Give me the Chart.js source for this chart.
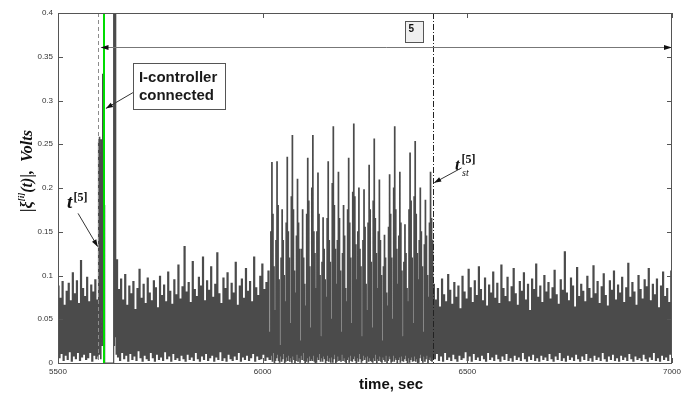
<!DOCTYPE html>
<html><head><meta charset="utf-8">
<script src="https://cdn.jsdelivr.net/npm/chart.js@4/dist/chart.umd.min.js"></script>
<style>html,body{margin:0;padding:0;background:#fff;overflow:hidden}#wrap{width:692px;height:394px;position:relative}</style>
</head><body><div id="wrap"><canvas id="c" width="692" height="394"></canvas></div>
<script>
// ---- axis ticks ----
const xTicks = [5500, 6000, 6500, 7000];
const yTicks = [0, 0.05, 0.1, 0.15, 0.2, 0.25, 0.3, 0.35, 0.4];

// ---- signal |xi(t)| in millivolts (thousandths of a volt) ----
const segStart = [5500, 5598, 5643, 6017, 6417];   // sec, first sample of each segment
const segStep  = [2.5, 1, 2.5, 1.25, 2.5];          // sec between samples

const noiseBefore_mV = [88,6,74,11,93,3,66,9,82,4,91,13,71,2,103,8,79,5,94,12,68,3,117,7,85,10,76,4,98,6,70,12,89,2,81,9,95,5,72,8];

const burst_mV = [20,252,10,258,35,235,5,255,60,245,20,330,110,320,40,180,
  0,0,0,0,0,0,0,0,0,0,0,0,0,0,0,0,0,0,0,0,0,0,
  450,20,440,30,470,90,10];

const noiseMid_mV = [
  118,7,84,3,96,12,72,5,101,9,66,2,88,11,79,4,93,8,61,3,
  85,14,107,6,74,2,90,9,68,5,97,3,80,12,71,6,94,2,86,10,
  63,4,99,7,77,3,89,13,70,5,104,8,82,2,67,11,95,4,78,6,
  112,3,73,9,87,5,133,2,81,10,92,4,69,7,116,3,84,12,76,5,
  98,2,88,8,121,4,71,11,94,3,83,6,110,9,75,2,90,7,126,4,
  79,13,68,3,97,6,85,2,103,10,72,5,91,3,80,8,115,4,66,12,
  88,2,96,7,74,4,108,9,82,3,93,6,70,11,121,2,86,8,77,4,
  99,5,113,10,84,3,92,7,105,4];

const oscillation_mV = [
  35,4,150,9,229,2,170,12,110,0,   60,3,140,6,230,10,180,3,95,1,
  20,8,120,2,175,5,140,11,100,0,   70,2,160,7,235,3,150,9,120,2,
  45,6,190,1,260,8,175,4,105,0,    80,3,145,10,210,2,160,6,130,1,
  25,9,130,4,175,12,120,3,90,0,    65,2,170,6,234,1,185,8,110,3,
  40,5,200,3,260,9,150,2,125,0,    85,1,150,7,217,4,170,11,100,2,
  30,6,115,2,166,8,130,5,95,0,     75,3,165,9,230,2,140,6,115,1,
  50,7,205,1,270,5,180,10,130,0,   90,2,140,8,218,3,165,4,105,2,
  35,10,125,3,180,6,145,2,85,0,    70,4,175,7,234,1,160,9,120,3,
  45,2,195,5,273,8,190,3,135,0,    95,6,150,2,200,11,130,5,110,1,
  30,3,140,9,198,4,155,7,90,0,     60,8,160,2,226,6,175,3,115,2,
  40,1,185,6,256,3,165,10,125,0,   85,5,150,3,209,8,140,2,100,1,
  25,7,110,4,146,2,120,9,80,0,     65,3,155,8,215,5,170,1,120,2,
  50,9,200,2,270,6,175,4,130,0,    90,4,145,7,218,1,160,8,105,3,
  30,2,115,5,158,9,125,3,85,0,     70,6,175,1,240,4,185,7,120,2,
  45,3,190,8,253,2,170,5,125,0,    95,1,140,6,200,10,150,3,110,1,
  35,8,135,2,186,5,145,9,100,0,    75,4,160,7,218,3,165,2,140,6];

const noiseAfter_mV = [
  90,5,72,11,85,3,64,8,96,2,78,12,70,4,101,7,83,3,67,10,
  92,5,75,2,88,9,62,4,99,6,81,13,73,3,107,8,86,2,69,11,
  94,4,77,7,110,3,84,9,71,5,97,2,65,12,89,4,80,7,104,3,
  74,10,91,5,68,2,112,8,85,4,76,11,98,3,70,6,87,2,108,9,
  79,4,66,7,93,3,82,12,103,5,72,2,90,8,60,4,96,10,84,3,
  113,6,75,2,88,9,69,4,100,7,81,3,92,11,73,5,86,2,106,8,
  78,4,67,12,95,3,83,6,127,2,80,9,71,4,97,7,88,3,64,10,
  109,5,76,2,90,8,82,4,70,11,99,3,85,6,74,2,111,9,79,4,
  93,7,68,3,87,12,102,5,77,2,65,8,94,4,83,10,105,3,72,6,
  89,2,80,9,98,4,69,7,86,3,114,11,75,5,92,2,81,8,66,4,
  100,6,84,3,73,10,95,5,87,2,108,7,71,4,90,12,78,3,96,6,
  63,2,88,9,104,4,76,7,85,3,69,10,105,5];

const segValues = [noiseBefore_mV, burst_mV, noiseMid_mV, oscillation_mV, noiseAfter_mV];

// ---- annotated events ----
const tStart5 = 5598;      // t^[5]
const tConnect = 5613;     // I-controller connected
const tSettle5 = 6417;     // t_st^[5]
const intervalLevel = 0.361;

// build points (sample time from segment start + index * step)
const points = [];
segValues.forEach((vals, s) => {
  vals.forEach((v, i) => points.push({x: segStart[s] + i * segStep[s], y: v / 1000}));
});

const FR = '#555';
function seg(ctx, x1, y1, x2, y2){ctx.beginPath();ctx.moveTo(x1,y1);ctx.lineTo(x2,y2);ctx.stroke();}
function head(ctx, x1, y1, x2, y2, len, hw){
  const a = Math.atan2(y2-y1, x2-x1);
  ctx.beginPath();
  ctx.moveTo(x2, y2);
  ctx.lineTo(x2 - len*Math.cos(a) + hw*Math.sin(a), y2 - len*Math.sin(a) - hw*Math.cos(a));
  ctx.lineTo(x2 - len*Math.cos(a) - hw*Math.sin(a), y2 - len*Math.sin(a) + hw*Math.cos(a));
  ctx.closePath(); ctx.fill();
}

const annot = {
  id: 'annot',
  afterDatasetsDraw(chart){
    const {ctx, chartArea: a, scales: {x, y}} = chart;
    const X = v => x.getPixelForValue(v), Y = v => y.getPixelForValue(v);
    const L = a.left, R = a.right, T = a.top, B = a.bottom;
    ctx.save();
    // event lines
    ctx.lineWidth = 1;
    ctx.strokeStyle = '#8c8c8c'; ctx.setLineDash([4,3]);
    let xs = Math.round(X(tStart5)) + 0.5; seg(ctx, xs, T, xs, B);
    ctx.setLineDash([]);
    ctx.strokeStyle = '#00dc00'; ctx.lineWidth = 2;
    let xc = Math.round(X(tConnect)); seg(ctx, xc, T, xc, B);
    ctx.strokeStyle = '#222'; ctx.lineWidth = 1; ctx.setLineDash([6,2,1,2]);
    let xd = Math.round(X(tSettle5)) + 0.5; seg(ctx, xd, T, xd, B);
    ctx.setLineDash([]);
    // interval arrow
    const yi = Math.round(Y(intervalLevel)) + 0.5;
    ctx.strokeStyle = '#777'; seg(ctx, xs + 3, yi, R, yi);
    ctx.fillStyle = '#111';
    head(ctx, R - 10, yi, R, yi, 8, 2.5);
    head(ctx, xs + 12, yi, xs + 2, yi, 8, 2.5);
    // frame + inward ticks
    ctx.strokeStyle = FR; ctx.lineWidth = 1;
    ctx.strokeRect(Math.round(L)+0.5, Math.round(T)+0.5, Math.round(R-L)-1, Math.round(B-T));
    yTicks.forEach(v => { const yy = Math.round(Y(v))+0.5; seg(ctx, L, yy, L+5, yy); seg(ctx, R-5, yy, R, yy); });
    xTicks.forEach(v => { const xx = Math.round(X(v))+0.5; seg(ctx, xx, B, xx, B-5); seg(ctx, xx, T, xx, T+5); });
    // box "5"
    const b5l = X(6348), b5r = X(6392), b5t = Y(0.391), b5b = Y(0.367);
    ctx.fillStyle = '#efefef'; ctx.fillRect(b5l, b5t, b5r-b5l, b5b-b5t);
    ctx.strokeStyle = '#555'; ctx.strokeRect(Math.round(b5l)+0.5, Math.round(b5t)+0.5, Math.round(b5r-b5l), Math.round(b5b-b5t));
    ctx.fillStyle = '#111'; ctx.font = 'bold 10px "Liberation Sans", Arial';
    ctx.textBaseline = 'alphabetic'; ctx.textAlign = 'left';
    ctx.fillText('5', b5l + 3.5, b5t + 11.5);
    // I-controller box
    const bl = X(5683), br = X(5908), bt = Y(0.343), bb = Y(0.291);
    ctx.fillStyle = '#fff'; ctx.fillRect(bl, bt, br-bl, bb-bt);
    ctx.strokeStyle = '#555'; ctx.strokeRect(Math.round(bl)+0.5, Math.round(bt)+0.5, Math.round(br-bl), Math.round(bb-bt));
    ctx.fillStyle = '#1a1a1a'; ctx.font = 'bold 15px "Liberation Sans", Arial';
    ctx.fillText('I-controller', bl + 6, bt + 19);
    ctx.fillText('connected', bl + 6, bt + 37);
    ctx.strokeStyle = '#333'; ctx.fillStyle = '#111';
    seg(ctx, bl, Y(0.309), X(5617), Y(0.291)); head(ctx, bl, Y(0.309), X(5617), Y(0.291), 7, 2.5);
    // t^[5] label + arrow
    ctx.font = 'bold italic 19px "Liberation Serif", serif';
    ctx.fillText('t', X(5522), Y(0.177));
    ctx.font = 'bold 12px "Liberation Serif", serif';
    ctx.fillText('[5]', X(5538), Y(0.185));
    seg(ctx, X(5549), Y(0.171), X(5597), Y(0.133)); head(ctx, X(5549), Y(0.171), X(5597), Y(0.133), 7, 2.5);
    // t_st^[5]
    ctx.font = 'bold italic 17px "Liberation Serif", serif';
    ctx.fillText('t', X(6470), Y(0.2206));
    ctx.font = 'bold 12px "Liberation Serif", serif';
    ctx.fillText('[5]', X(6486), Y(0.2286));
    ctx.font = 'italic 10px "Liberation Serif", serif';
    ctx.fillText('st', X(6487), Y(0.2137));
    seg(ctx, X(6486), Y(0.223), X(6419), Y(0.206)); head(ctx, X(6486), Y(0.223), X(6419), Y(0.206), 7, 2.5);
    ctx.restore();
  },
  afterDraw(chart){
    const ctx = chart.ctx;
    ctx.save();
    // x title
    ctx.fillStyle = '#111'; ctx.font = 'bold 15px "Liberation Sans", Arial';
    ctx.textAlign = 'center'; ctx.textBaseline = 'alphabetic';
    ctx.fillText('time, sec', 391, 389);
    // y title, rotated
    ctx.translate(32, 171); ctx.rotate(-Math.PI/2);
    const big = 'bold italic 16px "Liberation Serif", serif';
    const sup = 'bold italic 9px "Liberation Serif", serif';
    const parts = [['|', big, 0], ['\u03BE', big, 0], ['[i]', sup, -8], ['(t)', big, 0], ['|,  ', big, 0], ['Volts', big, 0]];
    let tot = 0;
    parts.forEach(p => { ctx.font = p[1]; tot += ctx.measureText(p[0]).width; });
    let cx = -tot/2;
    ctx.textAlign = 'left';
    parts.forEach(p => { ctx.font = p[1]; ctx.fillText(p[0], cx, p[2]); cx += ctx.measureText(p[0]).width; });
    ctx.restore();
  }
};

new Chart(document.getElementById('c'), {
  type: 'line',
  data: { datasets: [{ data: points, borderColor: '#4b4b4b', borderWidth: 1.2, pointRadius: 0, tension: 0, stepped: true, fill: false }] },
  options: {
    responsive: false, animation: false, devicePixelRatio: 1,
    parsing: false, normalized: true,
    layout: { padding: { left: 0, right: 20, top: 13, bottom: 0 } },
    plugins: { legend: { display: false }, tooltip: { enabled: false } },
    scales: {
      x: {
        type: 'linear', min: 5500, max: 7000,
        afterBuildTicks: s => { s.ticks = xTicks.map(v => ({value: v})); },
        afterFit: s => { s.height = 31; },
        grid: { display: false, drawTicks: false }, border: { display: false },
        ticks: { autoSkip: false, maxRotation: 0, padding: 4, color: '#333', font: { family: '"Liberation Sans", Arial', size: 8 }, callback: v => String(v) }
      },
      y: {
        type: 'linear', min: 0, max: 0.4,
        afterBuildTicks: s => { s.ticks = yTicks.map(v => ({value: v})); },
        afterFit: s => { s.width = 58; },
        grid: { display: false, drawTicks: false }, border: { display: false },
        ticks: { padding: 5, color: '#333', font: { family: '"Liberation Sans", Arial', size: 8 }, callback: v => String(v) }
      }
    }
  },
  plugins: [annot]
});
</script>
</body></html>
